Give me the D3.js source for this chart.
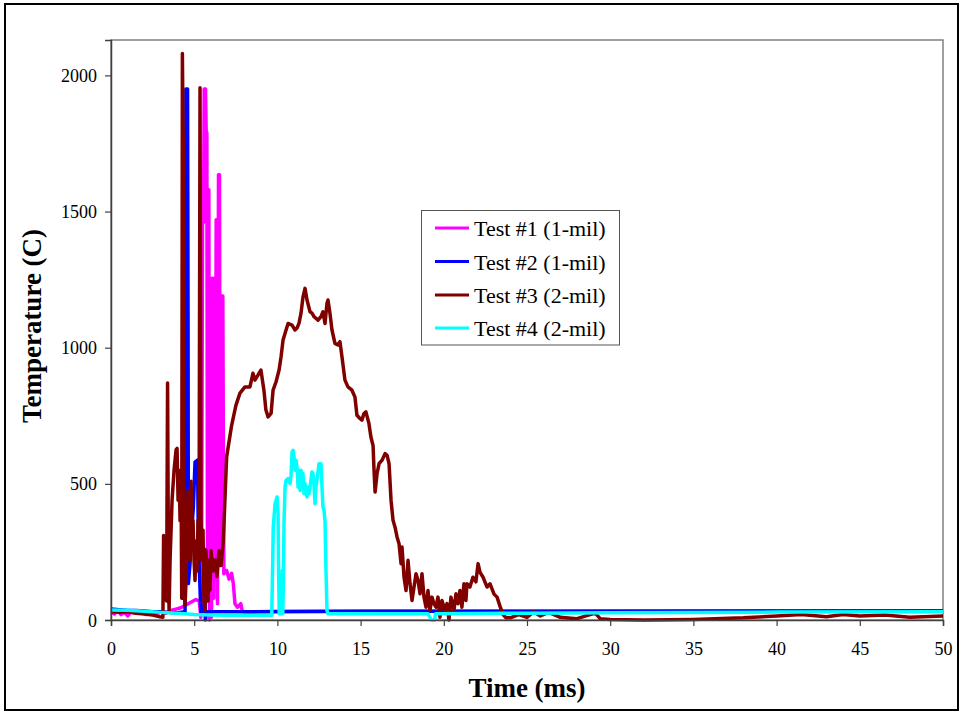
<!DOCTYPE html>
<html><head><meta charset="utf-8">
<script src="https://cdn.jsdelivr.net/npm/d3@7"></script>
<style>body{margin:0;background:#fff}svg{display:block}</style>
</head><body>
<script>
// ---- data (time ms, temperature C) ----
const seriesNames = ["Test #1 (1-mil)", "Test #2 (1-mil)", "Test #3 (2-mil)", "Test #4 (2-mil)"];
const seriesColors = ["#FF00FF", "#0000FF", "#800000", "#00FFFF"];
const xTicks = [0,5,10,15,20,25,30,35,40,45,50];
const yTicks = [0,500,1000,1500,2000];

const test1 = [[0,30],[0.2,22],[0.4,35],[0.6,20],[0.8,28],[1.0,15],[1.2,30],[1.5,25],[1.8,32],[2.1,20],[2.4,28],[2.7,22],[3.0,30],[3.3,25],[3.6,35],[3.9,40],[4.2,45],[4.5,55],[4.8,65],[5.1,75],[5.3,70],[5.4,10],[5.45,300],[5.5,1460],[5.56,1460],[5.6,1950],[5.68,1950],[5.72,1790],[5.76,1790],[5.8,100],[5.84,1580],[5.88,1580],[5.92,0],[5.98,300],[6.04,10],[6.08,1255],[6.14,1255],[6.18,80],[6.22,1200],[6.26,150],[6.32,1470],[6.36,1470],[6.4,60],[6.46,1635],[6.52,1635],[6.56,200],[6.64,1190],[6.72,1190],[6.78,170],[6.85,180],[6.95,182],[7.1,150],[7.25,171],[7.35,134],[7.45,60],[7.6,47],[7.8,60],[7.9,30],[8.2,28],[9,30],[12,31],[16,32],[20,32],[25,32],[30,33],[35,33],[40,33],[45,34],[50,34]];

const test2 = [[0,40],[0.5,38],[1,35],[1.5,35],[2,33],[2.5,30],[3,30],[3.5,28],[4,27],[4.45,30],[4.5,1950],[4.6,1950],[4.63,1100],[4.65,134],[4.75,207],[4.85,330],[4.95,415],[5.05,580],[5.2,587],[5.25,300],[5.3,200],[5.4,30],[5.6,25],[5.63,260],[5.67,0],[5.75,30],[6,30],[10,31],[15,32],[20,32],[30,32],[40,33],[50,33]];

const test3 = [[0,30],[0.5,28],[1,30],[1.5,25],[2,22],[2.5,18],[2.94,12],[3.12,10],[3.16,310],[3.2,260],[3.25,300],[3.3,190],[3.34,70],[3.4,870],[3.45,220],[3.49,35],[3.55,220],[3.67,440],[3.79,550],[3.91,625],[3.97,630],[4.03,440],[4.09,550],[4.15,365],[4.21,510],[4.25,80],[4.29,2080],[4.33,1800],[4.36,1690],[4.39,110],[4.45,55],[4.51,145],[4.57,290],[4.63,475],[4.69,365],[4.75,220],[4.81,510],[4.87,290],[4.93,365],[4.99,220],[5.05,145],[5.11,290],[5.17,180],[5.23,365],[5.29,220],[5.35,1955],[5.41,365],[5.47,220],[5.53,330],[5.59,70],[5.65,35],[5.71,255],[5.77,145],[5.83,70],[5.89,220],[5.95,110],[6.01,255],[6.07,220],[6.13,180],[6.25,220],[6.37,160],[6.49,255],[6.61,200],[6.75,292],[6.95,599],[7.25,715],[7.51,789],[7.75,833],[8.05,856],[8.35,856],[8.53,906],[8.65,881],[8.83,899],[9.01,918],[9.19,844],[9.31,771],[9.44,746],[9.62,759],[9.74,844],[9.92,875],[10.1,918],[10.22,967],[10.34,1028],[10.52,1065],[10.64,1089],[10.88,1083],[11.06,1065],[11.18,1072],[11.3,1090],[11.42,1127],[11.54,1187],[11.66,1218],[11.78,1175],[11.96,1132],[12.08,1127],[12.2,1114],[12.32,1108],[12.44,1101],[12.62,1114],[12.74,1132],[12.86,1089],[12.98,1163],[13.04,1175],[13.16,1126],[13.28,1065],[13.46,1016],[13.64,1010],[13.76,1022],[13.88,967],[14.06,881],[14.24,856],[14.48,844],[14.66,819],[14.78,752],[14.96,740],[15.08,734],[15.2,758],[15.32,764],[15.5,722],[15.62,672],[15.75,640],[15.8,560],[15.87,470],[15.99,538],[16.11,574],[16.29,587],[16.47,611],[16.59,605],[16.71,574],[16.83,439],[16.95,366],[17.07,341],[17.19,305],[17.31,280],[17.43,207],[17.49,268],[17.61,157],[17.73,108],[17.85,219],[17.97,133],[18.09,72],[18.21,121],[18.33,170],[18.45,145],[18.57,96],[18.69,170],[18.81,84],[18.93,47],[19.05,108],[19.17,35],[19.29,84],[19.41,60],[19.53,47],[19.65,84],[19.77,10],[19.89,72],[20.07,35],[20.19,60],[20.31,0],[20.43,84],[20.61,35],[20.73,96],[20.85,60],[20.97,108],[21.09,47],[21.21,133],[21.33,72],[21.39,133],[21.57,121],[21.75,157],[21.93,140],[22.06,207],[22.18,175],[22.36,157],[22.6,121],[22.78,133],[23.02,95],[23.2,84],[23.38,50],[23.56,20],[23.74,8],[24,8],[24.5,20],[25,10],[25.4,30],[25.8,15],[26.3,28],[27,10],[28,5],[29.1,25],[29.4,5],[30,2],[32,0],[35,2],[38,8],[40,15],[41.5,20],[43,12],[44,20],[45,15],[46.5,18],[48,10],[50,15]];

const test4 = [[0,37],[1,36],[2,32],[3,28],[4,25],[5,20],[6,18],[7,17],[8,17],[9,17],[9.66,17],[9.72,219],[9.75,341],[9.86,427],[9.98,452],[10.04,391],[10.07,182],[10.11,23],[10.26,23],[10.29,182],[10.32,23],[10.35,100],[10.4,366],[10.46,488],[10.52,513],[10.64,519],[10.76,501],[10.82,531],[10.88,617],[10.94,623],[11.0,599],[11.06,550],[11.12,587],[11.18,562],[11.24,488],[11.3,550],[11.36,476],[11.42,550],[11.48,501],[11.54,538],[11.6,464],[11.66,501],[11.72,470],[11.78,452],[11.84,488],[11.9,464],[11.96,488],[12.08,544],[12.14,538],[12.2,495],[12.26,427],[12.32,488],[12.44,544],[12.5,574],[12.62,574],[12.68,488],[12.74,415],[12.8,403],[12.86,366],[12.92,182],[12.98,35],[13.04,23],[15,23],[19.05,23],[19.25,0],[19.45,0],[19.5,23],[25,25],[30,27],[40,29],[50,30]];

const allSeries = [test1, test2, test3, test4];

// ---- drawing ----
const W = 962, H = 712;
const svg = d3.select("body").append("svg").attr("width", W).attr("height", H);

svg.append("rect").attr("x", 5).attr("y", 4).attr("width", 953).attr("height", 706)
  .attr("fill", "#fff").attr("stroke", "#000").attr("stroke-width", 2);

const x = d3.scaleLinear().domain([0, 50]).range([111, 943]);
const y = d3.scaleLinear().domain([0, 2130]).range([620, 40]);

// plot border
svg.append("rect").attr("x", 111).attr("y", 40).attr("width", 832).attr("height", 580)
  .attr("fill", "none").attr("stroke", "#808080").attr("stroke-width", 1.5);

const line = d3.line().x(d => x(d[0])).y(d => y(d[1]));
const g = svg.append("g");
allSeries.forEach((s, i) => {
  g.append("path").datum(s).attr("d", line).attr("fill", "none")
    .attr("stroke", seriesColors[i]).attr("stroke-width", 3.5).attr("stroke-linejoin", "round");
});

// axes
const xAxis = svg.append("g").attr("transform", "translate(0,620)")
  .call(d3.axisBottom(x).tickValues(xTicks).tickSize(6).tickPadding(16).tickFormat(d3.format("d")));
const yAxis = svg.append("g").attr("transform", "translate(111,0)")
  .call(d3.axisLeft(y).tickValues(yTicks).tickSize(6).tickPadding(8).tickFormat(d3.format("d")));
[xAxis, yAxis].forEach(a => {
  a.select(".domain").attr("stroke", "#404040").attr("stroke-width", 1.5);
  a.selectAll(".tick line").attr("stroke", "#404040").attr("stroke-width", 1.2);
  a.selectAll("text").attr("font-family", "Liberation Serif, Times New Roman, serif")
    .attr("font-size", 18).attr("fill", "#000");
});
yAxis.selectAll("text").attr("dy", "0.34em");

// titles
svg.append("text").attr("x", 527).attr("y", 697).attr("text-anchor", "middle")
  .attr("font-family", "Liberation Serif, Times New Roman, serif").attr("font-weight", "bold")
  .attr("font-size", 27).text("Time (ms)");
svg.append("text").attr("transform", "translate(41,326) rotate(-90)").attr("text-anchor", "middle")
  .attr("font-family", "Liberation Serif, Times New Roman, serif").attr("font-weight", "bold")
  .attr("font-size", 27).text("Temperature (C)");

// legend
const lg = svg.append("g");
lg.append("rect").attr("x", 421.5).attr("y", 210.5).attr("width", 198).attr("height", 134.5)
  .attr("fill", "#fff").attr("stroke", "#555").attr("stroke-width", 1);
const rowY = [228, 261.5, 295, 328];
seriesNames.forEach((n, i) => {
  lg.append("line").attr("x1", 435).attr("x2", 469).attr("y1", rowY[i]).attr("y2", rowY[i])
    .attr("stroke", seriesColors[i]).attr("stroke-width", 3);
  lg.append("text").attr("x", 474).attr("y", rowY[i] + 8)
    .attr("font-family", "Liberation Serif, Times New Roman, serif").attr("font-size", 22)
    .text(n);
});
</script>
</body></html>
